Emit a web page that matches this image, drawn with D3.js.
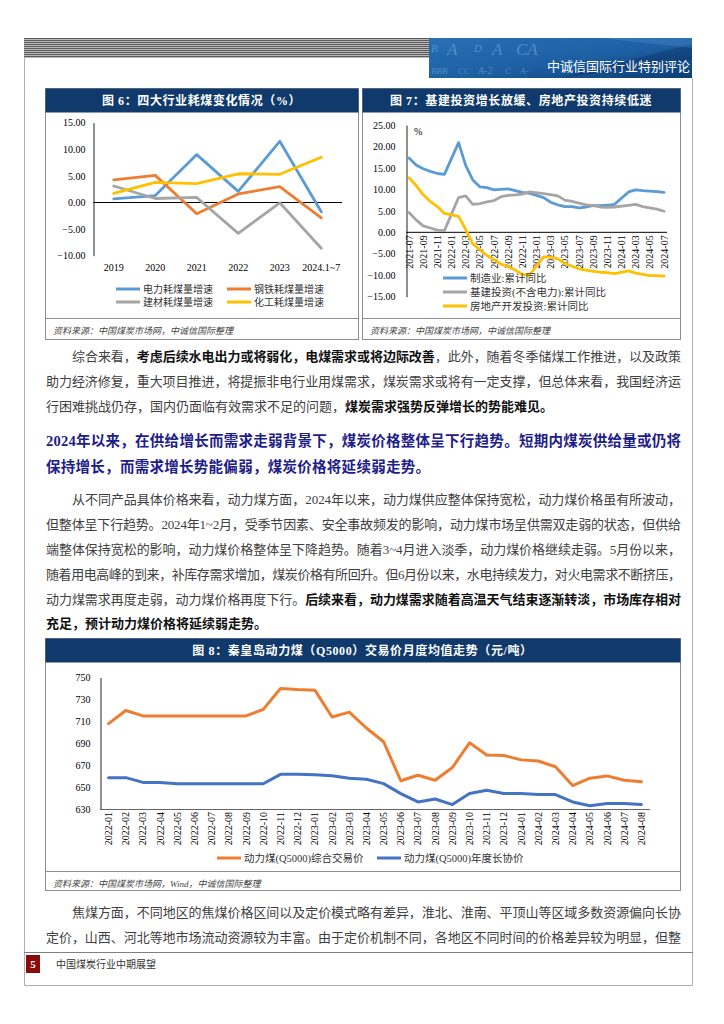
<!DOCTYPE html>
<html><head><meta charset="utf-8">
<script src="https://cdn.jsdelivr.net/npm/d3@7"></script>
<style>
html,body{margin:0;padding:0;background:#fff;}
svg{display:block;}
</style></head><body>
<svg id="page" width="724" height="1024"></svg>
<script>
// ---------------- DATA ----------------
const c6Categories = ["2019","2020","2021","2022","2023","2024.1~7"];
const c6Power    = [0.7, 1.3, 9.0, 2.1, 11.5, -1.75];
const c6Steel    = [4.25, 5.1, -2.1, 1.6, 3.0, -2.9];
const c6Building = [3.1, 0.75, 0.95, -5.8, -0.05, -8.6];
const c6Chemical = [1.7, 3.8, 3.55, 5.4, 5.3, 8.5];
const c6Ticks = [15, 10, 5, 0, -5, -10];
const c6Names = ["电力耗煤量增速","钢铁耗煤量增速","建材耗煤量增速","化工耗煤量增速"];

const c7Months = ["2021-07","2021-08","2021-09","2021-10","2021-11","2021-12",
  "2022-01","2022-02","2022-03","2022-04","2022-05","2022-06","2022-07","2022-08","2022-09","2022-10","2022-11","2022-12",
  "2023-01","2023-02","2023-03","2023-04","2023-05","2023-06","2023-07","2023-08","2023-09","2023-10","2023-11","2023-12",
  "2024-01","2024-02","2024-03","2024-04","2024-05","2024-06","2024-07"];
const c7TickLabels = ["2021-07","2021-09","2021-11","2022-01","2022-03","2022-05","2022-07","2022-09","2022-11",
  "2023-01","2023-03","2023-05","2023-07","2023-09","2023-11","2024-01","2024-03","2024-05","2024-07"];
const c7Manufacturing = [17.3,15.7,14.8,14.2,13.7,13.5,null,20.9,15.6,12.2,10.6,10.4,9.9,10.0,10.1,9.7,9.3,9.1,null,8.1,7.0,6.4,6.0,6.0,5.7,5.9,6.2,6.2,6.3,6.5,null,9.4,9.9,9.7,9.6,9.5,9.3];
const c7Infra = [4.6,2.9,1.5,1.0,0.5,0.4,null,8.1,8.5,6.5,6.7,7.1,7.4,8.3,8.6,8.7,8.9,9.4,null,9.0,8.8,8.5,7.5,7.2,6.8,6.4,6.2,5.9,5.8,5.9,null,6.3,6.5,6.0,5.7,5.4,4.9];
const c7RealEstate = [12.7,10.9,8.8,7.2,6.0,4.4,null,3.7,0.7,-2.7,-4.0,-5.4,-6.4,-7.4,-8.0,-8.8,-9.8,-10.0,null,-5.7,-5.8,-6.2,-7.2,-7.9,-8.5,-8.8,-9.1,-9.3,-9.4,-9.6,null,-9.0,-9.5,-9.8,-10.1,-10.1,-10.2];
const c7Ticks = [25,20,15,10,5,0,-5,-10,-15];
const c7Names = ["制造业:累计同比","基建投资(不含电力):累计同比","房地产开发投资:累计同比"];

const c8Months = ["2022-01","2022-02","2022-03","2022-04","2022-05","2022-06","2022-07","2022-08","2022-09","2022-10","2022-11","2022-12",
  "2023-01","2023-02","2023-03","2023-04","2023-05","2023-06","2023-07","2023-08","2023-09","2023-10","2023-11","2023-12",
  "2024-01","2024-02","2024-03","2024-04","2024-05","2024-06","2024-07","2024-08"];
const c8Spot = [708,720,715,715,715,715,715,715,715,721,740,739,
  738.5,714,718.5,704,691.5,656,661,656.5,668,690.5,679.5,679,
  675,674,668.7,651.6,658.3,660.4,656.5,655];
const c8Contract = [658.8,658.8,654.5,654.5,653.3,653.3,653.3,653.3,653.3,653.3,661.8,661.8,
  661.5,660.6,658.2,657.3,653.4,644.3,636.7,639.4,634.3,644.3,647.3,644.3,
  644.3,643.4,643.4,636.7,633.3,635.2,635.2,634.3];
const c8Ticks = [750,730,710,690,670,650,630];
const c8Names = ["动力煤(Q5000)综合交易价","动力煤(Q5000)年度长协价"];

// ---------------- SETUP ----------------
const svg = d3.select("#page");
const SERIF = "'Liberation Serif','Times New Roman','Noto Sans CJK SC',serif";
const CJK = "'Noto Sans CJK SC','Noto Sans',sans-serif";
const NAVY = "#103a6b";
const BORDER = "#8e8e8e";
const defs = svg.append("defs");

svg.append("rect").attr("width",724).attr("height",1024).attr("fill","#fff");

// header stripes
const pat = defs.append("pattern").attr("id","stripes").attr("width",4).attr("height",2).attr("patternUnits","userSpaceOnUse");
pat.append("rect").attr("width",4).attr("height",1).attr("fill","#5c5c5c");
pat.append("rect").attr("y",1).attr("width",4).attr("height",1).attr("fill","#b8b8b8");
svg.append("rect").attr("x",24).attr("y",38).attr("width",405).attr("height",20).attr("fill","url(#stripes)");

// banner
const bg = defs.append("linearGradient").attr("id","banner").attr("x1",0).attr("y1",0).attr("x2",1).attr("y2",1);
bg.append("stop").attr("offset",0).attr("stop-color","#2a6fb4");
bg.append("stop").attr("offset",0.55).attr("stop-color","#1d5fa2");
bg.append("stop").attr("offset",1).attr("stop-color","#0b3d75");
defs.append("clipPath").attr("id","bclip").append("rect").attr("x",429).attr("y",38).attr("width",263).attr("height",40);
svg.append("rect").attr("x",429).attr("y",38).attr("width",263).attr("height",40).attr("fill","url(#banner)");
const bl = svg.append("g").attr("clip-path","url(#bclip)").attr("font-family",SERIF).attr("font-style","italic");
// decorative rating letters of the banner image (two rows, kept apart)
[["B",431,52,11],["A",447,55,17],["D",474,52,11],["A",492,55,17],["CA",516,55,17],
 ["BBB",431,74,9],["CC",458,74,9],["A-2",478,74,10],["C",505,74,9],["A-",520,74,9]].forEach(d=>{
  bl.append("text").attr("x",d[1]).attr("y",d[2]).attr("font-size",d[3]).attr("fill","rgba(150,205,245,0.40)").text(d[0]);
});
bl.append("path").attr("d","M560,78 L692,44 L692,60 Z").attr("fill","rgba(10,40,90,0.35)");
bl.append("path").attr("d","M600,38 L692,38 L692,48 Z").attr("fill","rgba(120,190,240,0.18)");
svg.append("text").attr("x",690).attr("y",71).attr("text-anchor","end").attr("font-family",CJK).attr("font-size",13)
  .attr("fill","#fff").text("中诚信国际行业特别评论");

// page frame
const frame = svg.append("g").attr("stroke","#b0b0b0").attr("stroke-width",1).attr("fill","none");
frame.append("line").attr("x1",24.5).attr("y1",58).attr("x2",24.5).attr("y2",985.5);
frame.append("line").attr("x1",692.5).attr("y1",78).attr("x2",692.5).attr("y2",985.5);
frame.append("line").attr("x1",24.5).attr("y1",985.5).attr("x2",692.5).attr("y2",985.5);

// ---------------- helpers ----------------
function drawBox(b, title, sepY, source) {
  svg.append("rect").attr("x",b.x0+0.5).attr("y",b.y0+0.5).attr("width",b.x1-b.x0).attr("height",b.y1-b.y0)
    .attr("fill","#fff").attr("stroke",BORDER);
  svg.append("rect").attr("x",b.x0+0.5).attr("y",b.y0+0.5).attr("width",b.x1-b.x0).attr("height",24).attr("fill",NAVY);
  svg.append("text").attr("x",(b.x0+b.x1)/2).attr("y",b.y0+17).attr("text-anchor","middle")
    .attr("font-family",SERIF).attr("font-weight",700).attr("font-size",12).attr("letter-spacing",0.6).attr("fill","#fff").text(title);
  svg.append("line").attr("x1",b.x0).attr("x2",b.x1+1).attr("y1",sepY+0.5).attr("y2",sepY+0.5).attr("stroke",BORDER);
  svg.append("text").attr("x",b.x0+8).attr("y",sepY+16).attr("font-family",SERIF).attr("font-style","italic")
    .attr("font-size",9).attr("fill","#444").text(source);
}
function legendItem(x, y, name, color, font, size) {
  svg.append("line").attr("x1",x).attr("x2",x+24).attr("y1",y).attr("y2",y).attr("stroke",color).attr("stroke-width",3);
  svg.append("text").attr("x",x+27).attr("y",y+3.6).attr("font-family",font).attr("font-size",size).attr("fill","#333").text(name);
}
function styleAxis(g, size) {
  g.selectAll("text").attr("font-family",SERIF).attr("font-size",size).attr("fill","#000");
}

// ---------------- CHART 6 ----------------
const b6 = {x0:45, x1:358, y0:88, y1:339};
drawBox(b6, "图 6：四大行业耗煤变化情况（%）", 318, "资料来源：中国煤炭市场网，中诚信国际整理");
const x6 = d3.scaleBand().domain(c6Categories).range([93, 342]);
const y6 = d3.scaleLinear().domain([-10, 15]).range([255.7, 122.7]);
const ay6 = svg.append("g").attr("transform","translate(93.5,0)")
  .call(d3.axisLeft(y6).tickValues(c6Ticks).tickFormat(d3.format(".2f")).tickSize(0).tickPadding(8));
ay6.select(".domain").attr("stroke","#222");
styleAxis(ay6, 10);
const ax6 = svg.append("g").attr("transform","translate(0,256)")
  .call(d3.axisBottom(x6).tickSize(0).tickPadding(8));
ax6.select(".domain").remove();
styleAxis(ax6, 10);
svg.append("line").attr("x1",93).attr("x2",342).attr("y1",y6(0)).attr("y2",y6(0)).attr("stroke","#000");
const s6 = [[c6Power,"#5b9bd5"],[c6Steel,"#ed7d31"],[c6Building,"#a5a5a5"],[c6Chemical,"#ffc000"]];
const line6 = d3.line().x((d,i)=>x6(c6Categories[i])+x6.bandwidth()/2).y(d=>y6(d));
s6.forEach(s=>svg.append("path").datum(s[0]).attr("d",line6).attr("fill","none").attr("stroke",s[1])
  .attr("stroke-width",2.8).attr("stroke-linejoin","round").attr("stroke-linecap","round"));
legendItem(116, 289, c6Names[0], "#5b9bd5", CJK, 10);
legendItem(227, 289, c6Names[1], "#ed7d31", CJK, 10);
legendItem(116, 302, c6Names[2], "#a5a5a5", CJK, 10);
legendItem(227, 302, c6Names[3], "#ffc000", CJK, 10);

// ---------------- CHART 7 ----------------
const b7 = {x0:362, x1:680, y0:88, y1:339};
drawBox(b7, "图 7：基建投资增长放缓、房地产投资持续低迷", 318, "资料来源：中国煤炭市场网，中诚信国际整理");
const x7 = d3.scalePoint().domain(c7Months).range([409, 664]);
const y7 = d3.scaleLinear().domain([-15, 25]).range([296.7, 125]);
const ay7 = svg.append("g").attr("transform","translate(406.5,0)")
  .call(d3.axisLeft(y7).tickValues(c7Ticks).tickFormat(d3.format(".2f")).tickSize(0).tickPadding(11));
ay7.select(".domain").attr("stroke","#222");
styleAxis(ay7, 10);
svg.append("line").attr("x1",406).attr("x2",667).attr("y1",y7(0)).attr("y2",y7(0)).attr("stroke","#000");
svg.append("text").attr("x",414).attr("y",135).attr("font-family",SERIF).attr("font-size",10).text("%");
const xl7 = svg.append("g");
c7TickLabels.forEach(m=>{
  xl7.append("text").attr("transform",`translate(${x7(m)},${y7(0)+3}) rotate(-90)`).attr("dy","0.35em")
    .attr("text-anchor","end").attr("font-family",SERIF).attr("font-size",10).attr("fill","#000").text(m);
});
const pts = arr => arr.map((v,i)=>[c7Months[i],v]).filter(d=>d[1]!==null);
const line7 = d3.line().x(d=>x7(d[0])).y(d=>y7(d[1]));
[[c7Manufacturing,"#5b9bd5"],[c7Infra,"#a5a5a5"],[c7RealEstate,"#ffc000"]].forEach(s=>
  svg.append("path").datum(pts(s[0])).attr("d",line7).attr("fill","none").attr("stroke",s[1])
    .attr("stroke-width",2.8).attr("stroke-linejoin","round").attr("stroke-linecap","round"));
legendItem(443, 278, c7Names[0], "#5b9bd5", SERIF, 10.5);
legendItem(443, 292, c7Names[1], "#a5a5a5", SERIF, 10.5);
legendItem(443, 306, c7Names[2], "#ffc000", SERIF, 10.5);

// ---------------- TEXT ----------------
const BODY = "#404040", BOLD = "#111", HEAD = "#1d2088";
function textLine(x, y, segs, size, width, color, boldColor, allBold) {
  const t = svg.append("text").attr("x",x).attr("y",y).attr("font-family",SERIF).attr("font-size",size).attr("fill",color);
  segs.forEach(s=>t.append("tspan").text(s[0]).attr("font-weight",(s[1]||allBold)?700:400)
    .attr("fill",s[1]?boldColor:color));
  if (width) t.attr("textLength",width).attr("lengthAdjust","spacing");
}
const R = 681, L = 46, IND = 72;
// paragraph 1
textLine(IND,361,[["综合来看，"],["考虑后续水电出力或将弱化，电煤需求或将边际改善",1],["，此外，随着冬季储煤工作推进，以及政策"]],13,R-IND,BODY,BOLD);
textLine(L,386,[["助力经济修复，重大项目推进，将提振非电行业用煤需求，煤炭需求或将有一定支撑，但总体来看，我国经济运"]],13,R-L,BODY,BOLD);
textLine(L,411,[["行困难挑战仍存，国内仍面临有效需求不足的问题，"],["煤炭需求强势反弹增长的势能难见。",1]],13,null,BODY,BOLD);
// heading
textLine(L,446,[["2024年以来，在供给增长而需求走弱背景下，煤炭价格整体呈下行趋势。短期内煤炭供给量或仍将"]],14.5,R-L,HEAD,HEAD,true);
textLine(L,472,[["保持增长，而需求增长势能偏弱，煤炭价格将延续弱走势。"]],14.5,384,HEAD,HEAD,true);
// paragraph 2
textLine(IND,504,[["从不同产品具体价格来看，动力煤方面，2024年以来，动力煤供应整体保持宽松，动力煤价格虽有所波动，"]],13,R-IND,BODY,BOLD);
textLine(L,529,[["但整体呈下行趋势。2024年1~2月，受季节因素、安全事故频发的影响，动力煤市场呈供需双走弱的状态，但供给"]],13,R-L,BODY,BOLD);
textLine(L,554,[["端整体保持宽松的影响，动力煤价格整体呈下降趋势。随着3~4月进入淡季，动力煤价格继续走弱。5月份以来，"]],13,R-L,BODY,BOLD);
textLine(L,579,[["随着用电高峰的到来，补库存需求增加，煤炭价格有所回升。但6月份以来，水电持续发力，对火电需求不断挤压，"]],13,R-L,BODY,BOLD);
textLine(L,604,[["动力煤需求再度走弱，动力煤价格再度下行。"],["后续来看，动力煤需求随着高温天气结束逐渐转淡，市场库存相对",1]],13,R-L,BODY,BOLD);
textLine(L,628,[["充足，预计动力煤价格将延续弱走势。",1]],13,null,BODY,BOLD);
// paragraph 3
textLine(IND,917,[["焦煤方面，不同地区的焦煤价格区间以及定价模式略有差异，淮北、淮南、平顶山等区域多数资源偏向长协"]],13,R-IND,BODY,BOLD);
textLine(L,942,[["定价，山西、河北等地市场流动资源较为丰富。由于定价机制不同，各地区不同时间的价格差异较为明显，但整"]],13,R-L,BODY,BOLD);

// ---------------- CHART 8 ----------------
const b8 = {x0:45, x1:680, y0:638, y1:890};
drawBox(b8, "图 8：秦皇岛动力煤（Q5000）交易价月度均值走势（元/吨）", 871, "资料来源：中国煤炭市场网，Wind，中诚信国际整理");
const x8 = d3.scaleBand().domain(c8Months).range([100, 650]);
const y8 = d3.scaleLinear().domain([630, 750]).range([809.3, 677.5]);
const ay8 = svg.append("g").attr("transform","translate(100.5,0)")
  .call(d3.axisLeft(y8).tickValues(c8Ticks).tickFormat(d3.format("d")).tickSize(0).tickPadding(10));
ay8.select(".domain").attr("stroke","#222");
styleAxis(ay8, 10);
svg.append("line").attr("x1",100).attr("x2",650).attr("y1",809.5).attr("y2",809.5).attr("stroke","#666");
c8Months.forEach(m=>{
  svg.append("text").attr("transform",`translate(${x8(m)+x8.bandwidth()/2},${812}) rotate(-90)`).attr("dy","0.35em")
    .attr("text-anchor","end").attr("font-family",SERIF).attr("font-size",10).attr("fill","#000").text(m);
});
const line8 = d3.line().x((d,i)=>x8(c8Months[i])+x8.bandwidth()/2).y(d=>y8(d));
[[c8Spot,"#ed7d31"],[c8Contract,"#4472c4"]].forEach(s=>
  svg.append("path").datum(s[0]).attr("d",line8).attr("fill","none").attr("stroke",s[1])
    .attr("stroke-width",3).attr("stroke-linejoin","round").attr("stroke-linecap","round"));
legendItem(217, 858, c8Names[0], "#ed7d31", SERIF, 10.5);
legendItem(377, 858, c8Names[1], "#4472c4", SERIF, 10.5);

// ---------------- FOOTER ----------------
svg.append("line").attr("x1",24).attr("x2",693).attr("y1",952.5).attr("y2",952.5).attr("stroke","#808080");
svg.append("rect").attr("x",26).attr("y",955).attr("width",14).attr("height",18).attr("fill","#8b0a0a");
svg.append("text").attr("x",33).attr("y",968).attr("text-anchor","middle").attr("font-family",SERIF)
  .attr("font-weight",700).attr("font-size",11).attr("fill","#fff").text("5");
svg.append("text").attr("x",56).attr("y",968).attr("font-family",CJK).attr("font-size",10).attr("fill","#333").text("中国煤炭行业中期展望");
</script>
</body></html>
